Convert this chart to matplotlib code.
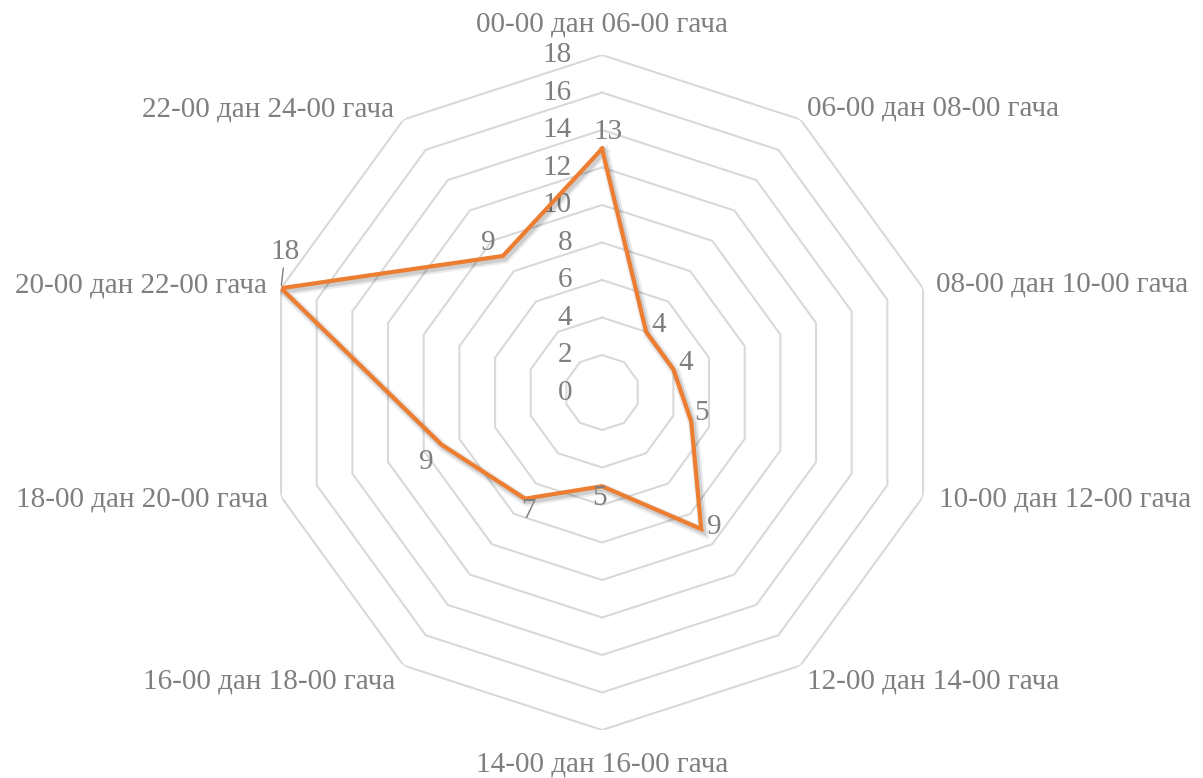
import matplotlib.pyplot as plt
import matplotlib.patheffects as pe
import numpy as np

categories = [
    "00-00 дан 06-00 гача",
    "06-00 дан 08-00 гача",
    "08-00 дан 10-00 гача",
    "10-00 дан 12-00 гача",
    "12-00 дан 14-00 гача",
    "14-00 дан 16-00 гача",
    "16-00 дан 18-00 гача",
    "18-00 дан 20-00 гача",
    "20-00 дан 22-00 гача",
    "22-00 дан 24-00 гача",
]
values = [13, 4, 4, 5, 9, 5, 7, 9, 18, 9]
ring_ticks = [0, 2, 4, 6, 8, 10, 12, 14, 16, 18]

text_color = "#7F7F7F"
grid_color = "#D9D9D9"
line_color = "#ED7D31"
font_size = 21

# label offsets in pixels (dx, dy, ha)
cat_offsets = [
    (0, 31, "center"),
    (7, 11, "left"),
    (13, 4, "left"),
    (16, -3, "left"),
    (7, -16, "left"),
    (0, -35, "center"),
    (-8, -16, "right"),
    (-13, -3, "right"),
    (-14, 3, "right"),
    (-10, 10, "right"),
]
value_offsets = [
    (6, 17), (13, 7), (12, 6), (10, 8), (13, 2),
    (-3, -12), (3, -12), (-15, -17), (4, 36), (-15, 13),
]

plt.rcParams["font.family"] = ["Liberation Serif", "DejaVu Serif"]

fig = plt.figure(figsize=(12.03, 7.78), dpi=100)
ax = fig.add_axes([0.2199, 0.0617, 0.5611, 0.8676], projection="polar")
ax.set_theta_zero_location("N")
ax.set_theta_direction(-1)
ax.set_ylim(0, 18)
ax.grid(False)
ax.spines["polar"].set_visible(False)
ax.set_xticks([])
ax.set_yticks([])
ax.patch.set_alpha(0)

n = len(categories)
angles = np.linspace(0, 2 * np.pi, n, endpoint=False)
closed = np.append(angles, angles[0])

# polygon gridlines
for r in ring_ticks[1:]:
    ax.plot(closed, [r] * (n + 1), color=grid_color, lw=1.5, zorder=1)

# radial axis labels
for r in ring_ticks:
    ax.annotate(str(r), xy=(0, r), xytext=(-30, 0), textcoords="offset pixels",
                ha="right", va="center", fontsize=font_size, color=text_color)

# category labels
for ang, name, (dx, dy, ha) in zip(angles, categories, cat_offsets):
    ax.annotate(name, xy=(ang, 18), xytext=(dx, dy), textcoords="offset pixels",
                ha=ha, va="center", fontsize=font_size, color=text_color,
                annotation_clip=False)

# data line with a soft shadow
shadow = [pe.SimpleLineShadow(offset=(1.5, -2), shadow_color="black",
                              alpha=0.08, linewidth=7),
          pe.SimpleLineShadow(offset=(1.5, -2), shadow_color="black",
                              alpha=0.12, linewidth=4),
          pe.Normal()]
ax.plot(closed, values + values[:1], color=line_color, lw=3, zorder=3,
        solid_joinstyle="miter", path_effects=shadow)

# data labels
for ang, v, (dx, dy) in zip(angles, values, value_offsets):
    if v == max(values):
        ax.annotate(str(v), xy=(ang, v), xytext=(dx, dy), textcoords="offset pixels",
                    ha="center", va="center", fontsize=font_size, color=text_color,
                    arrowprops=dict(arrowstyle="-", color=text_color, lw=1,
                                    shrinkA=0, shrinkB=2), zorder=4)
    else:
        ax.annotate(str(v), xy=(ang, v), xytext=(dx, dy), textcoords="offset pixels",
                    ha="center", va="center", fontsize=font_size, color=text_color,
                    zorder=4)

fig.savefig("out.png", dpi=100)
